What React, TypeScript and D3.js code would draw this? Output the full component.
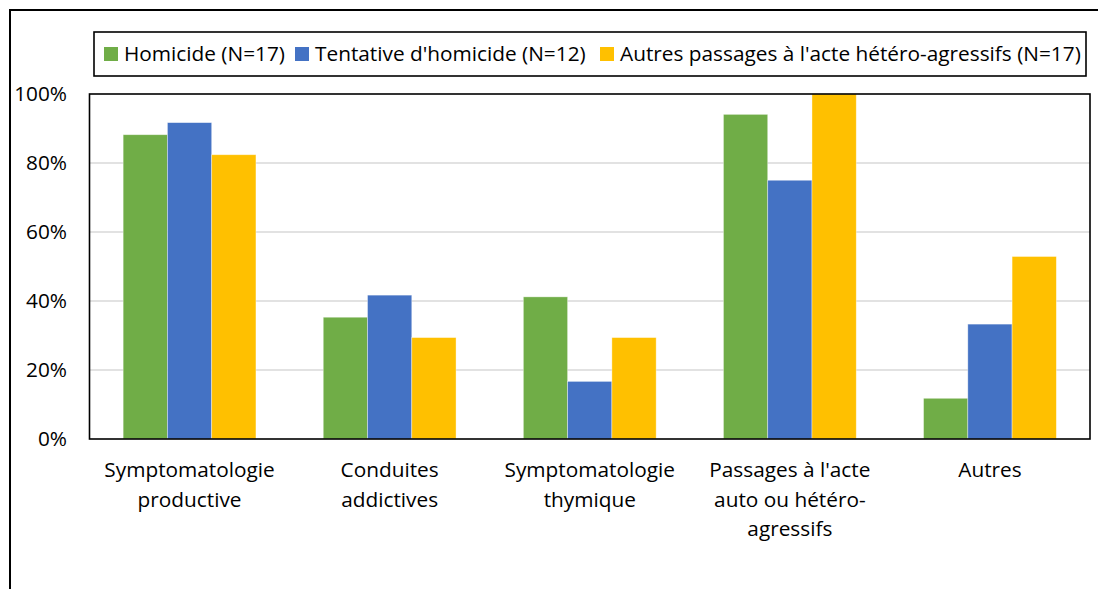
import React from "react";
import * as d3 from "d3";

const categories = [
  "Symptomatologie productive",
  "Conduites addictives",
  "Symptomatologie thymique",
  "Passages à l'acte auto ou hétéro-agressifs",
  "Autres",
];
const categoryLines = [
  ["Symptomatologie", "productive"],
  ["Conduites", "addictives"],
  ["Symptomatologie", "thymique"],
  ["Passages à l'acte", "auto ou hétéro-", "agressifs"],
  ["Autres"],
];
const seriesNames = [
  "Homicide (N=17)",
  "Tentative d'homicide (N=12)",
  "Autres passages à l'acte hétéro-agressifs (N=17)",
];
const homicide = [0.882, 0.353, 0.412, 0.941, 0.118];
const tentative = [0.917, 0.417, 0.167, 0.75, 0.333];
const autres = [0.824, 0.294, 0.294, 1.0, 0.529];
const yTicks = [0, 0.2, 0.4, 0.6, 0.8, 1.0];

const seriesValues = [homicide, tentative, autres];
const colors = ["#70AD47", "#4472C4", "#FFC000"];

const W = 1098;
const H = 589;
const plot = { left: 89.5, right: 1090, top: 94, bottom: 439 };
const FONT = "'Open Sans', sans-serif";
const FS = 20.8;
const legendX = [104, 295, 600];

export default function App() {
  const x = d3
    .scaleBand<string>()
    .domain(categories)
    .range([plot.left, plot.right])
    .padding(0);
  const xs = d3
    .scaleBand<number>()
    .domain([0, 1, 2])
    .range([0, x.bandwidth()])
    .paddingInner(0)
    .paddingOuter(0.76);
  const y = d3.scaleLinear().domain([0, 1]).range([plot.bottom, plot.top]);
  const fmt = d3.format(".0%");

  return (
    <svg
      width={W}
      height={H}
      style={{ position: "absolute", left: 0, top: 0, background: "#fff" }}
      fontFamily={FONT}
    >
      <rect x={0} y={0} width={W} height={H} fill="#fff" />
      {/* outer border */}
      <rect x={10} y={10} width={1200} height={700} fill="none" stroke="#000" strokeWidth={2} />

      {/* gridlines */}
      {yTicks.slice(1, -1).map((t) => (
        <line
          key={t}
          x1={plot.left}
          x2={plot.right}
          y1={y(t)}
          y2={y(t)}
          stroke="#d9d9d9"
          strokeWidth={1.5}
        />
      ))}

      {/* bars */}
      {seriesValues.map((vals, si) =>
        vals.map((v, ci) => (
          <rect
            key={`${si}-${ci}`}
            x={(x(categories[ci]) as number) + (xs(si) as number)}
            y={y(v)}
            width={xs.bandwidth()}
            height={y(0) - y(v)}
            fill={colors[si]}
            stroke="#ffffff"
            strokeOpacity={0.5}
            strokeWidth={0.75}
          />
        ))
      )}

      {/* plot border */}
      <rect
        x={plot.left}
        y={plot.top}
        width={plot.right - plot.left}
        height={plot.bottom - plot.top}
        fill="none"
        stroke="#000"
        strokeWidth={1.6}
      />

      {/* y ticks */}
      {yTicks.map((t) => (
        <text
          key={t}
          x={67}
          y={y(t)}
          dy="0.36em"
          textAnchor="end"
          fontSize={FS}
          fill="#000"
        >
          {fmt(t)}
        </text>
      ))}

      {/* x labels */}
      {categoryLines.map((lines, ci) => (
        <text
          key={ci}
          x={(x(categories[ci]) as number) + x.bandwidth() / 2}
          y={477}
          textAnchor="middle"
          fontSize={FS}
          fill="#000"
        >
          {lines.map((l, li) => (
            <tspan key={li} x={(x(categories[ci]) as number) + x.bandwidth() / 2} dy={li === 0 ? 0 : 29.5}>
              {l}
            </tspan>
          ))}
        </text>
      ))}

      {/* legend */}
      <rect x={94} y={32} width={992} height={44} fill="#fff" stroke="#000" strokeWidth={1.6} />
      {seriesNames.map((n, i) => (
        <g key={n}>
          <rect x={legendX[i]} y={47} width={14} height={14} fill={colors[i]} />
          <text x={legendX[i] + 20} y={54} dy="0.36em" fontSize={FS} fill="#000">
            {n}
          </text>
        </g>
      ))}
    </svg>
  );
}
